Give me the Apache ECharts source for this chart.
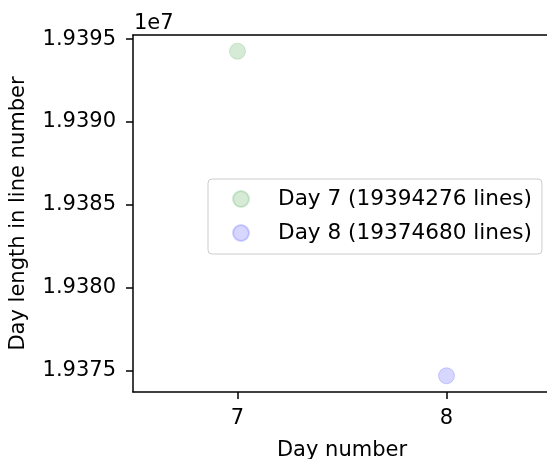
<!DOCTYPE html>
<html>
<head>
<meta charset="utf-8">
<script src="https://cdn.jsdelivr.net/npm/echarts@6/dist/echarts.min.js"></script>
<style>
  html, body { margin: 0; padding: 0; background: #fff; overflow: hidden; }
  #chart { width: 547px; height: 459px; }
</style>
</head>
<body>
<div id="chart"></div>
<script>
// Line counts per day
const days = [7, 8];
const dayLengths = [19394276, 19374680];
const dayColors = ['rgba(0,128,0,0.2)', 'rgba(0,0,255,0.2)'];

// Tick positions
const xTicks = [7, 8];
const yTicks = [19375000, 19380000, 19385000, 19390000, 19395000];
const yScaleLabel = '1e7';

const FONT = 'DejaVu Sans';
const FS = 21;

// Padding around the data on both axes
const xPad = (days[days.length - 1] - days[0]) * 0.5;
const yMinV = Math.min(...dayLengths), yMaxV = Math.max(...dayLengths);
const yPad = (yMaxV - yMinV) * 0.05;
const xMin = days[0] - xPad, xMax = days[days.length - 1] + xPad;

const series = days.map((d, i) => ({
  name: 'Day ' + d + ' (' + dayLengths[i] + ' lines)',
  type: 'scatter',
  symbol: 'circle',
  symbolSize: 16,
  itemStyle: { color: dayColors[i], borderColor: dayColors[i], borderWidth: 1 },
  data: [[d, dayLengths[i]]]
}));

const spine = { show: true, lineStyle: { color: '#000', width: 1.5 } };

const chart = echarts.init(document.getElementById('chart'), null, { renderer: 'canvas' });
chart.setOption({
  animation: false,
  backgroundColor: '#fff',
  textStyle: { fontFamily: FONT },
  // the plot area extends a few pixels past the right edge of the canvas
  grid: { left: 133, top: 35, width: 418, height: 357, containLabel: false, outerBoundsMode: 'none' },
  xAxis: [{
    type: 'value',
    min: xMin, max: xMax,
    name: 'Day number',
    nameLocation: 'middle',
    nameGap: 48,
    nameTextStyle: { fontFamily: FONT, fontSize: FS, color: '#000' },
    axisLine: spine,
    axisTick: { show: true, length: 7, lineStyle: { color: '#000', width: 1.5 }, customValues: xTicks },
    axisLabel: { fontFamily: FONT, fontSize: FS, color: '#000', margin: 16, customValues: xTicks },
    splitLine: { show: false }
  }, {
    // top spine
    type: 'value', position: 'top',
    min: xMin, max: xMax,
    axisLine: spine,
    axisTick: { show: false }, axisLabel: { show: false }, splitLine: { show: false }
  }],
  yAxis: {
    type: 'value',
    min: yMinV - yPad,
    max: yMaxV + yPad,
    name: 'Day length in line number',
    nameLocation: 'middle',
    nameGap: 104,
    nameTextStyle: { fontFamily: FONT, fontSize: FS, color: '#000' },
    axisLine: spine,
    axisTick: { show: true, length: 7, lineStyle: { color: '#000', width: 1.5 }, customValues: yTicks },
    axisLabel: {
      fontFamily: FONT, fontSize: FS, color: '#000', margin: 17, customValues: yTicks,
      formatter: v => (v / 1e7).toFixed(4)
    },
    splitLine: { show: false }
  },
  legend: {
    orient: 'vertical',
    left: 208, top: 179,
    padding: [9, 10, 10, 24],
    itemWidth: 16, itemHeight: 16, itemGap: 12,
    borderColor: '#cccccc', borderWidth: 1, borderRadius: 4,
    backgroundColor: 'rgba(255,255,255,0.8)',
    icon: 'circle',
    textStyle: { fontFamily: FONT, fontSize: 21.6, color: '#000', lineHeight: 21, padding: [0, 0, 0, 24] },
    data: series.map(s => s.name)
  },
  graphic: [{
    type: 'text', left: 134, top: 13,
    style: { text: yScaleLabel, font: FS + 'px "' + FONT + '"', fill: '#000' }
  }],
  series: series
});
</script>
</body>
</html>
